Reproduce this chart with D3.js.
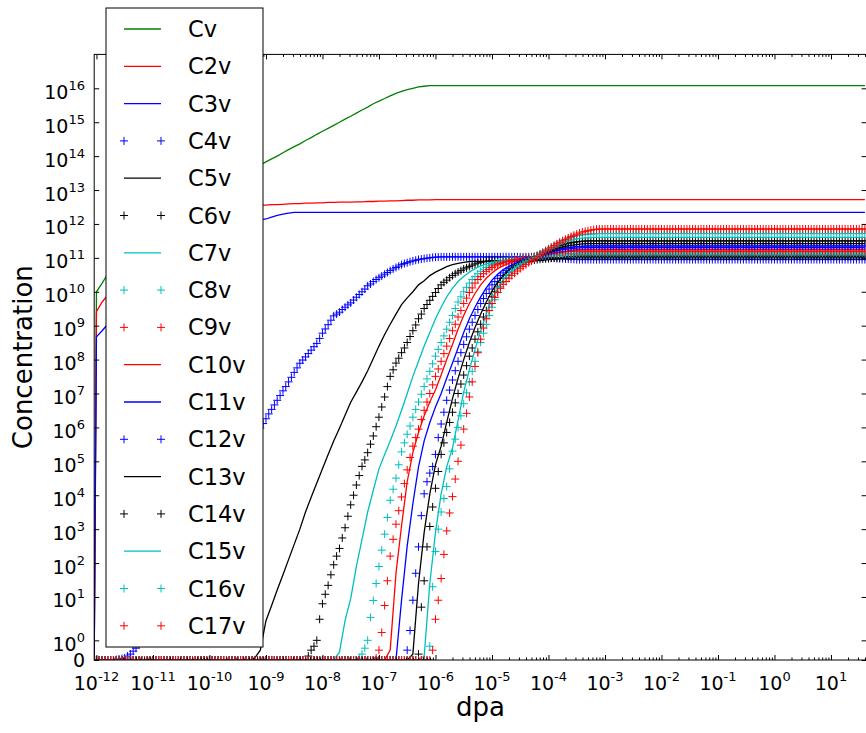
<!DOCTYPE html>
<html>
<head>
<meta charset="utf-8">
<script src="https://cdn.jsdelivr.net/npm/d3@7"></script>
<style>
body { margin: 0; background: #fff; }
text { font-family: "DejaVu Sans", sans-serif; fill: #000; }
</style>
</head>
<body>
<svg id="chart" width="866" height="733"></svg>
<script>
// output times (dpa): line species were saved every other step, marker species every step
const dpa = [9.12e-13,
  1e-12,1.26e-12,1.58e-12,2e-12,2.51e-12,3.16e-12,3.98e-12,5.01e-12,6.31e-12,7.94e-12,
  1e-11,1.26e-11,1.58e-11,2e-11,2.51e-11,3.16e-11,3.98e-11,5.01e-11,6.31e-11,7.94e-11,
  1e-10,1.26e-10,1.58e-10,2e-10,2.51e-10,3.16e-10,3.98e-10,5.01e-10,6.31e-10,7.94e-10,
  1e-9,1.26e-9,1.58e-9,2e-9,2.51e-9,3.16e-9,3.98e-9,5.01e-9,6.31e-9,7.94e-9,
  1e-8,1.26e-8,1.58e-8,2e-8,2.51e-8,3.16e-8,3.98e-8,5.01e-8,6.31e-8,7.94e-8,
  1e-7,1.26e-7,1.58e-7,2e-7,2.51e-7,3.16e-7,3.98e-7,5.01e-7,6.31e-7,7.94e-7,
  1e-6,1.26e-6,1.58e-6,2e-6,2.51e-6,3.16e-6,3.98e-6,5.01e-6,6.31e-6,7.94e-6,
  1e-5,1.26e-5,1.58e-5,2e-5,2.51e-5,3.16e-5,3.98e-5,5.01e-5,6.31e-5,7.94e-5,
  1e-4,1.26e-4,1.58e-4,2e-4,2.51e-4,3.16e-4,3.98e-4,5.01e-4,6.31e-4,7.94e-4,
  1e-3,1.26e-3,1.58e-3,2e-3,2.51e-3,3.16e-3,3.98e-3,5.01e-3,6.31e-3,7.94e-3,
  1e-2,1.26e-2,1.58e-2,2e-2,2.51e-2,3.16e-2,3.98e-2,5.01e-2,6.31e-2,7.94e-2,
  0.1,0.126,0.158,0.2,0.251,0.316,0.398,0.501,0.631,0.794,
  1,1.26,1.58,2,2.51,3.16,3.98,5.01,6.31,7.94,
  10,12.6,15.8,20,25.1,31.6,39.8];

const dpaFine = [9.12e-13,
  1e-12,1.12e-12,1.26e-12,1.41e-12,1.58e-12,1.78e-12,2e-12,2.24e-12,2.51e-12,2.82e-12,
  3.16e-12,3.55e-12,3.98e-12,4.47e-12,5.01e-12,5.62e-12,6.31e-12,7.08e-12,7.94e-12,8.91e-12,
  1e-11,1.12e-11,1.26e-11,1.41e-11,1.58e-11,1.78e-11,2e-11,2.24e-11,2.51e-11,2.82e-11,
  3.16e-11,3.55e-11,3.98e-11,4.47e-11,5.01e-11,5.62e-11,6.31e-11,7.08e-11,7.94e-11,8.91e-11,
  1e-10,1.12e-10,1.26e-10,1.41e-10,1.58e-10,1.78e-10,2e-10,2.24e-10,2.51e-10,2.82e-10,
  3.16e-10,3.55e-10,3.98e-10,4.47e-10,5.01e-10,5.62e-10,6.31e-10,7.08e-10,7.94e-10,8.91e-10,
  1e-9,1.12e-9,1.26e-9,1.41e-9,1.58e-9,1.78e-9,2e-9,2.24e-9,2.51e-9,2.82e-9,
  3.16e-9,3.55e-9,3.98e-9,4.47e-9,5.01e-9,5.62e-9,6.31e-9,7.08e-9,7.94e-9,8.91e-9,
  1e-8,1.12e-8,1.26e-8,1.41e-8,1.58e-8,1.78e-8,2e-8,2.24e-8,2.51e-8,2.82e-8,
  3.16e-8,3.55e-8,3.98e-8,4.47e-8,5.01e-8,5.62e-8,6.31e-8,7.08e-8,7.94e-8,8.91e-8,
  1e-7,1.12e-7,1.26e-7,1.41e-7,1.58e-7,1.78e-7,2e-7,2.24e-7,2.51e-7,2.82e-7,
  3.16e-7,3.55e-7,3.98e-7,4.47e-7,5.01e-7,5.62e-7,6.31e-7,7.08e-7,7.94e-7,8.91e-7,
  1e-6,1.12e-6,1.26e-6,1.41e-6,1.58e-6,1.78e-6,2e-6,2.24e-6,2.51e-6,2.82e-6,
  3.16e-6,3.55e-6,3.98e-6,4.47e-6,5.01e-6,5.62e-6,6.31e-6,7.08e-6,7.94e-6,8.91e-6,
  1e-5,1.12e-5,1.26e-5,1.41e-5,1.58e-5,1.78e-5,2e-5,2.24e-5,2.51e-5,2.82e-5,
  3.16e-5,3.55e-5,3.98e-5,4.47e-5,5.01e-5,5.62e-5,6.31e-5,7.08e-5,7.94e-5,8.91e-5,
  1e-4,1.12e-4,1.26e-4,1.41e-4,1.58e-4,1.78e-4,2e-4,2.24e-4,2.51e-4,2.82e-4,
  3.16e-4,3.55e-4,3.98e-4,4.47e-4,5.01e-4,5.62e-4,6.31e-4,7.08e-4,7.94e-4,8.91e-4,
  1e-3,1.12e-3,1.26e-3,1.41e-3,1.58e-3,1.78e-3,2e-3,2.24e-3,2.51e-3,2.82e-3,
  3.16e-3,3.55e-3,3.98e-3,4.47e-3,5.01e-3,5.62e-3,6.31e-3,7.08e-3,7.94e-3,8.91e-3,
  1e-2,1.12e-2,1.26e-2,1.41e-2,1.58e-2,1.78e-2,2e-2,2.24e-2,2.51e-2,2.82e-2,
  3.16e-2,3.55e-2,3.98e-2,4.47e-2,5.01e-2,5.62e-2,6.31e-2,7.08e-2,7.94e-2,8.91e-2,
  0.1,0.112,0.126,0.141,0.158,0.178,0.2,0.224,0.251,0.282,
  0.316,0.355,0.398,0.447,0.501,0.562,0.631,0.708,0.794,0.891,
  1,1.12,1.26,1.41,1.58,1.78,2,2.24,2.51,2.82,
  3.16,3.55,3.98,4.47,5.01,5.62,6.31,7.08,7.94,8.91,
  10,11.2,12.6,14.1,15.8,17.8,20,22.4,25.1,28.2,31.6,35.5,39.8];

// ---- line species (on dpa) ----
const cv = [0,
  1e10,1.8e10,3.3e10,4.4e10,5.8e10,7.6e10,1e11,1.3e11,1.7e11,2.2e11,
  3e11,3.9e11,5.1e11,6.8e11,8.9e11,1.2e12,1.5e12,2e12,2.7e12,3.5e12,
  4.6e12,6e12,7.9e12,1e13,1.4e13,1.8e13,2.4e13,3.2e13,4.2e13,5.5e13,
  6.8e13,8.3e13,1e14,1.26e14,1.55e14,1.9e14,2.3e14,2.9e14,3.5e14,4.4e14,
  5.4e14,6.6e14,8.1e14,1e15,1.23e15,1.5e15,1.86e15,2.3e15,2.8e15,3.5e15,
  4.2e15,5e15,6e15,7.1e15,8.1e15,9.1e15,1e16,1.1e16,1.15e16,1.2e16,
  1.2e16,1.2e16,1.2e16,1.2e16,1.2e16,1.2e16,1.2e16,1.2e16,1.2e16,1.2e16,
  1.2e16,1.2e16,1.2e16,1.2e16,1.2e16,1.2e16,1.2e16,1.2e16,1.2e16,1.2e16,
  1.2e16,1.2e16,1.2e16,1.2e16,1.2e16,1.2e16,1.2e16,1.2e16,1.2e16,1.2e16,
  1.2e16,1.2e16,1.2e16,1.2e16,1.2e16,1.2e16,1.2e16,1.2e16,1.2e16,1.2e16,
  1.2e16,1.2e16,1.2e16,1.2e16,1.2e16,1.2e16,1.2e16,1.2e16,1.2e16,1.2e16,
  1.2e16,1.2e16,1.2e16,1.2e16,1.2e16,1.2e16,1.2e16,1.2e16,1.2e16,1.2e16,
  1.2e16,1.2e16,1.2e16,1.2e16,1.2e16,1.2e16,1.2e16,1.2e16,1.2e16,1.2e16,
  1.2e16,1.2e16,1.2e16,1.2e16,1.2e16,1.2e16,1.2e16];

const c2v = [0,
  2.6e9,5e9,7.9e9,2e10,4e10,7.9e10,1.4e11,2.5e11,4e11,5.6e11,
  7.9e11,1e12,1.26e12,1.5e12,1.8e12,2e12,2.2e12,2.45e12,2.6e12,2.8e12,
  2.95e12,3e12,3.1e12,3.16e12,3.2e12,3.4e12,3.5e12,3.5e12,3.55e12,3.6e12,
  3.6e12,3.7e12,3.7e12,3.8e12,3.9e12,4e12,4e12,4.1e12,4.1e12,4.2e12,
  4.2e12,4.3e12,4.3e12,4.4e12,4.4e12,4.4e12,4.5e12,4.5e12,4.6e12,4.6e12,
  4.7e12,4.7e12,4.8e12,4.8e12,4.9e12,5e12,5e12,5.1e12,5.1e12,5.1e12,
  5.2e12,5.2e12,5.2e12,5.2e12,5.2e12,5.2e12,5.2e12,5.2e12,5.2e12,5.2e12,
  5.2e12,5.2e12,5.2e12,5.2e12,5.2e12,5.2e12,5.2e12,5.2e12,5.2e12,5.2e12,
  5.2e12,5.2e12,5.2e12,5.2e12,5.2e12,5.2e12,5.2e12,5.2e12,5.2e12,5.2e12,
  5.2e12,5.2e12,5.2e12,5.2e12,5.2e12,5.2e12,5.2e12,5.2e12,5.2e12,5.2e12,
  5.2e12,5.2e12,5.2e12,5.2e12,5.2e12,5.2e12,5.2e12,5.2e12,5.2e12,5.2e12,
  5.2e12,5.2e12,5.2e12,5.2e12,5.2e12,5.2e12,5.2e12,5.2e12,5.2e12,5.2e12,
  5.2e12,5.2e12,5.2e12,5.2e12,5.2e12,5.2e12,5.2e12,5.2e12,5.2e12,5.2e12,
  5.2e12,5.2e12,5.2e12,5.2e12,5.2e12,5.2e12,5.2e12];

const c3v = [0,
  4.7e8,7.1e8,1.1e9,2.5e9,5.6e9,1.3e10,2.5e10,5e10,8.9e10,1.4e11,
  2e11,2.7e11,3.5e11,4.4e11,5.2e11,6.2e11,7.1e11,7.8e11,8.5e11,9.1e11,
  9.8e11,1e12,1.02e12,1.05e12,1.1e12,1.15e12,1.17e12,1.23e12,1.26e12,1.3e12,
  1.4e12,1.6e12,1.8e12,1.95e12,2.1e12,2.2e12,2.2e12,2.2e12,2.2e12,2.2e12,
  2.2e12,2.2e12,2.2e12,2.2e12,2.2e12,2.2e12,2.2e12,2.2e12,2.2e12,2.2e12,
  2.2e12,2.2e12,2.2e12,2.2e12,2.2e12,2.2e12,2.2e12,2.2e12,2.2e12,2.2e12,
  2.2e12,2.2e12,2.2e12,2.2e12,2.2e12,2.2e12,2.2e12,2.2e12,2.2e12,2.2e12,
  2.2e12,2.2e12,2.2e12,2.2e12,2.2e12,2.2e12,2.2e12,2.2e12,2.2e12,2.2e12,
  2.2e12,2.2e12,2.2e12,2.2e12,2.2e12,2.2e12,2.2e12,2.2e12,2.2e12,2.2e12,
  2.2e12,2.2e12,2.2e12,2.2e12,2.2e12,2.2e12,2.2e12,2.2e12,2.2e12,2.2e12,
  2.2e12,2.2e12,2.2e12,2.2e12,2.2e12,2.2e12,2.2e12,2.2e12,2.2e12,2.2e12,
  2.2e12,2.2e12,2.2e12,2.2e12,2.2e12,2.2e12,2.2e12,2.2e12,2.2e12,2.2e12,
  2.2e12,2.2e12,2.2e12,2.2e12,2.2e12,2.2e12,2.2e12,2.2e12,2.2e12,2.2e12,
  2.2e12,2.2e12,2.2e12,2.2e12,2.2e12,2.2e12,2.2e12];

const c5v = [0,
  0,0,0,0,0,0,0,0,0,0,
  0,0,0,0,0,0,0,0,0,0,
  0,0,0,0,0,0,0,0,0.1,0.5,
  2,5.6,16,45,126,355,1000,3200,8700,2.3e4,
  6e4,1.6e5,4e5,9.5e5,2.3e6,5.5e6,1.1e7,2.2e7,4.7e7,1.07e8,
  2.5e8,5.5e8,1.1e9,2.2e9,4.2e9,6.6e9,1e10,1.6e10,2.1e10,3e10,
  3.8e10,4.6e10,5.5e10,6.3e10,6.9e10,7.4e10,7.8e10,7.9e10,7.9e10,7.9e10,
  7.9e10,7.9e10,7.9e10,7.9e10,7.9e10,7.9e10,7.9e10,7.9e10,8.3e10,8.5e10,
  8.9e10,9.1e10,9.3e10,9.5e10,9.8e10,1e11,1e11,1e11,1e11,1e11,
  1e11,1e11,1e11,1e11,1e11,1e11,1e11,1e11,1e11,1e11,
  1e11,1e11,1e11,1e11,1e11,1e11,1e11,1e11,1e11,1e11,
  1e11,1e11,1e11,1e11,1e11,1e11,1e11,1e11,1e11,1e11,
  1e11,1e11,1e11,1e11,1e11,1e11,1e11,1e11,1e11,1e11,
  1e11,1e11,1e11,1e11,1e11,1e11,1e11];

const c7v = [0,
  0,0,0,0,0,0,0,0,0,0,
  0,0,0,0,0,0,0,0,0,0,
  0,0,0,0,0,0,0,0,0,0,
  0,0,0,0,0,0,0,0,0,0,
  0,0,0,0.4,2,8.9,79,500,3200,1.4e4,
  6e4,1.6e5,4e5,1.1e6,3.2e6,1e7,3.2e7,8.9e7,2.5e8,6.3e8,
  1.6e9,3.5e9,7.1e9,1.26e10,2e10,2.8e10,3.8e10,4.8e10,5.8e10,6.6e10,
  7.4e10,7.9e10,8.5e10,8.9e10,9.3e10,9.5e10,9.8e10,1e11,1.02e11,1.05e11,
  1.1e11,1.12e11,1.17e11,1.2e11,1.23e11,1.26e11,1.26e11,1.26e11,1.26e11,1.26e11,
  1.26e11,1.26e11,1.26e11,1.26e11,1.26e11,1.26e11,1.26e11,1.26e11,1.26e11,1.26e11,
  1.26e11,1.26e11,1.26e11,1.26e11,1.26e11,1.26e11,1.26e11,1.26e11,1.26e11,1.26e11,
  1.26e11,1.26e11,1.26e11,1.26e11,1.26e11,1.26e11,1.26e11,1.26e11,1.26e11,1.26e11,
  1.26e11,1.26e11,1.26e11,1.26e11,1.26e11,1.26e11,1.26e11,1.26e11,1.26e11,1.26e11,
  1.26e11,1.26e11,1.26e11,1.26e11,1.26e11,1.26e11,1.26e11];

const c10v = [0,
  0,0,0,0,0,0,0,0,0,0,
  0,0,0,0,0,0,0,0,0,0,
  0,0,0,0,0,0,0,0,0,0,
  0,0,0,0,0,0,0,0,0,0,
  0,0,0,0,0,0,0,0,0,0,
  0,0,0.5,50,1260,2.5e4,1.8e5,7.1e5,2.2e6,5.6e6,
  1.26e7,3.5e7,1e8,2.8e8,7.9e8,2e9,4.5e9,8.9e9,1.6e10,2.5e10,
  3.6e10,4.8e10,5.9e10,6.9e10,7.8e10,8.5e10,9.3e10,1e11,1.1e11,1.2e11,
  1.32e11,1.41e11,1.5e11,1.58e11,1.66e11,1.74e11,1.78e11,1.78e11,1.78e11,1.78e11,
  1.78e11,1.78e11,1.78e11,1.78e11,1.78e11,1.78e11,1.78e11,1.78e11,1.78e11,1.78e11,
  1.78e11,1.78e11,1.78e11,1.78e11,1.78e11,1.78e11,1.78e11,1.78e11,1.78e11,1.78e11,
  1.78e11,1.78e11,1.78e11,1.78e11,1.78e11,1.78e11,1.78e11,1.78e11,1.78e11,1.78e11,
  1.78e11,1.78e11,1.78e11,1.78e11,1.78e11,1.78e11,1.78e11,1.78e11,1.78e11,1.78e11,
  1.78e11,1.78e11,1.78e11,1.78e11,1.78e11,1.78e11,1.78e11];

const c11v = [0,
  0,0,0,0,0,0,0,0,0,0,
  0,0,0,0,0,0,0,0,0,0,
  0,0,0,0,0,0,0,0,0,0,
  0,0,0,0,0,0,0,0,0,0,
  0,0,0,0,0,0,0,0,0,0,
  0,0,0,0,8.1,320,5600,6.9e4,4e5,1.4e6,
  4e6,1e7,2.8e7,7.9e7,2.2e8,6.3e8,1.6e9,3.5e9,7.1e9,1.3e10,
  2.2e10,3.3e10,4.5e10,5.6e10,6.8e10,7.9e10,8.9e10,1e11,1.12e11,1.26e11,
  1.41e11,1.55e11,1.7e11,1.78e11,1.86e11,1.95e11,2e11,2e11,2e11,2e11,
  2e11,2e11,2e11,2e11,2e11,2e11,2e11,2e11,2e11,2e11,
  2e11,2e11,2e11,2e11,2e11,2e11,2e11,2e11,2e11,2e11,
  2e11,2e11,2e11,2e11,2e11,2e11,2e11,2e11,2e11,2e11,
  2e11,2e11,2e11,2e11,2e11,2e11,2e11,2e11,2e11,2e11,
  2e11,2e11,2e11,2e11,2e11,2e11,2e11];

const c13v = [0,
  0,0,0,0,0,0,0,0,0,0,
  0,0,0,0,0,0,0,0,0,0,
  0,0,0,0,0,0,0,0,0,0,
  0,0,0,0,0,0,0,0,0,0,
  0,0,0,0,0,0,0,0,0,0,
  0,0,0,0,0,0,0.3,25,800,1.1e4,
  7.9e4,2.8e5,1.4e6,7.1e6,2.8e7,1e8,3.2e8,8.9e8,2.2e9,5e9,
  1.05e10,1.9e10,3e10,4.3e10,5.6e10,6.9e10,8.1e10,9.5e10,1.12e11,1.32e11,
  1.55e11,1.78e11,2e11,2.2e11,2.34e11,2.45e11,2.57e11,2.63e11,2.63e11,2.63e11,
  2.63e11,2.63e11,2.63e11,2.63e11,2.63e11,2.63e11,2.63e11,2.63e11,2.63e11,2.63e11,
  2.63e11,2.63e11,2.63e11,2.63e11,2.63e11,2.63e11,2.63e11,2.63e11,2.63e11,2.63e11,
  2.63e11,2.63e11,2.63e11,2.63e11,2.63e11,2.63e11,2.63e11,2.63e11,2.63e11,2.63e11,
  2.63e11,2.63e11,2.63e11,2.63e11,2.63e11,2.63e11,2.63e11,2.63e11,2.63e11,2.63e11,
  2.63e11,2.63e11,2.63e11,2.63e11,2.63e11,2.63e11,2.63e11];

const c15v = [0,
  0,0,0,0,0,0,0,0,0,0,
  0,0,0,0,0,0,0,0,0,0,
  0,0,0,0,0,0,0,0,0,0,
  0,0,0,0,0,0,0,0,0,0,
  0,0,0,0,0,0,0,0,0,0,
  0,0,0,0,0,0,0,0,0.2,25,
  800,1.1e4,6.9e4,2.5e5,1.6e6,1.1e7,5e7,2e8,7.1e8,2.2e9,
  6.3e9,1.26e10,2.2e10,3.5e10,5e10,6.3e10,7.8e10,9.3e10,1.15e11,1.41e11,
  1.74e11,2.1e11,2.5e11,2.95e11,3.3e11,3.6e11,3.8e11,3.9e11,4e11,4e11,
  4e11,4e11,4e11,4e11,4e11,4e11,4e11,4e11,4e11,4e11,
  4e11,4e11,4e11,4e11,4e11,4e11,4e11,4e11,4e11,4e11,
  4e11,4e11,4e11,4e11,4e11,4e11,4e11,4e11,4e11,4e11,
  4e11,4e11,4e11,4e11,4e11,4e11,4e11,4e11,4e11,4e11,
  4e11,4e11,4e11,4e11,4e11,4e11,4e11];

// ---- marker species (on dpaFine) ----
const c4v = [0,
  0,0,0,0,0,0,0,0.02,0.05,0.07, 0.1,0.2,0.3,0.45,0.6,0.8,1,1.4,2,2.8,
  3.8,5.3,7.4,10,14,20,28,38,52,72, 100,140,195,270,370,520,720,1000,1400,1900,
  2600,3700,5100,7100,1e4,1.4e4,1.9e4,2.6e4,3.6e4,5e4, 7.1e4,9.8e4,1.35e5,1.9e5,2.6e5,3.6e5,5e5,6.9e5,9.5e5,1.3e6,
  1.8e6,2.5e6,3.4e6,4.6e6,6.3e6,8.7e6,1.2e7,1.6e7,2.2e7,3e7, 4.2e7,5.7e7,7.8e7,9.7e7,1.2e8,1.5e8,1.9e8,2.4e8,3e8,4.2e8,
  6e8,8e8,1.07e9,1.45e9,1.95e9,2.2e9,2.5e9,3e9,3.5e9,4.1e9, 4.7e9,5.7e9,6.9e9,8.3e9,1e10,1.2e10,1.5e10,1.7e10,2e10,2.3e10,
  2.6e10,2.9e10,3.3e10,3.7e10,4.2e10,4.7e10,5.2e10,5.7e10,6.3e10,6.8e10, 7.2e10,7.7e10,8.1e10,8.5e10,8.9e10,9.2e10,9.5e10,9.8e10,1e11,1.03e11,
  1.05e11,1.06e11,1.07e11,1.07e11,1.07e11,1.07e11,1.07e11,1.07e11,1.07e11,1.07e11, 1.07e11,1.07e11,1.07e11,1.07e11,1.07e11,1.07e11,1.07e11,1.07e11,1.07e11,1.07e11,
  1.07e11,1.07e11,1.07e11,1.07e11,1.07e11,1.07e11,1.07e11,1.07e11,1.07e11,1.07e11, 1.07e11,1.07e11,1.07e11,1.07e11,1.07e11,1.06e11,1.05e11,1.03e11,1.02e11,1.01e11,
  1e11,9.9e10,9.8e10,9.6e10,9.5e10,9.4e10,9.3e10,9.2e10,9.1e10,9e10, 8.9e10,8.9e10,8.9e10,8.9e10,8.9e10,8.9e10,8.9e10,8.9e10,8.9e10,8.9e10,
  8.9e10,8.9e10,8.9e10,8.9e10,8.9e10,8.9e10,8.9e10,8.9e10,8.9e10,8.9e10, 8.9e10,8.9e10,8.9e10,8.9e10,8.9e10,8.9e10,8.9e10,8.9e10,8.9e10,8.9e10,
  8.9e10,8.9e10,8.9e10,8.9e10,8.9e10,8.9e10,8.9e10,8.9e10,8.9e10,8.9e10, 8.9e10,8.9e10,8.9e10,8.9e10,8.9e10,8.9e10,8.9e10,8.9e10,8.9e10,8.9e10,
  8.9e10,8.9e10,8.9e10,8.9e10,8.9e10,8.9e10,8.9e10,8.9e10,8.9e10,8.9e10, 8.9e10,8.9e10,8.9e10,8.9e10,8.9e10,8.9e10,8.9e10,8.9e10,8.9e10,8.9e10,
  8.9e10,8.9e10,8.9e10,8.9e10,8.9e10,8.9e10,8.9e10,8.9e10,8.9e10,8.9e10, 8.9e10,8.9e10,8.9e10,8.9e10,8.9e10,8.9e10,8.9e10,8.9e10,8.9e10,8.9e10,
  8.9e10,8.9e10,8.9e10,8.9e10,8.9e10,8.9e10,8.9e10,8.9e10,8.9e10,8.9e10,8.9e10,8.9e10,8.9e10];

const c6v = [0,
  0,0,0,0,0,0,0,0,0,0, 0,0,0,0,0,0,0,0,0,0,
  0,0,0,0,0,0,0,0,0,0, 0,0,0,0,0,0,0,0,0,0,
  0,0,0,0,0,0,0,0,0,0, 0,0,0,0,0,0,0,0,0,0,
  0,0,0,0,0,0,0,0,0,0, 0,0,0,0,0,0.2,0.5,0.7,1,2.2,
  6.3,12,22,45,89,160,270,550,1100,2400, 5200,1e4,2e4,3.8e4,7.1e4,1.1e5,1.8e5,3.2e5,5.6e5,1.05e6,
  2e6,4e6,7.9e6,1.6e7,3.2e7,5e7,7.9e7,1.1e8,1.6e8,2.2e8, 3.2e8,4.8e8,7.1e8,1.05e9,1.6e9,2.2e9,3.2e9,4.2e9,5.6e9,7.3e9,
  9.5e9,1.25e10,1.6e10,1.9e10,2.2e10,2.6e10,3e10,3.4e10,3.8e10,4.2e10, 4.7e10,5.1e10,5.6e10,6.1e10,6.6e10,7e10,7.4e10,7.7e10,7.9e10,8.1e10,
  8.3e10,8.3e10,8.3e10,8.3e10,8.3e10,8.3e10,8.3e10,8.3e10,8.3e10,8.3e10, 8.3e10,8.3e10,8.3e10,8.3e10,8.3e10,8.6e10,8.9e10,9.1e10,9.3e10,9.4e10,
  9.5e10,9.8e10,1e11,1.01e11,1.02e11,1.04e11,1.05e11,1.08e11,1.1e11,1.11e11, 1.12e11,1.12e11,1.12e11,1.12e11,1.12e11,1.12e11,1.12e11,1.12e11,1.12e11,1.12e11,
  1.12e11,1.12e11,1.12e11,1.12e11,1.12e11,1.12e11,1.12e11,1.12e11,1.12e11,1.12e11, 1.12e11,1.12e11,1.12e11,1.12e11,1.12e11,1.12e11,1.12e11,1.12e11,1.12e11,1.12e11,
  1.12e11,1.12e11,1.12e11,1.12e11,1.12e11,1.12e11,1.12e11,1.12e11,1.12e11,1.12e11, 1.12e11,1.12e11,1.12e11,1.12e11,1.12e11,1.12e11,1.12e11,1.12e11,1.12e11,1.12e11,
  1.12e11,1.12e11,1.12e11,1.12e11,1.12e11,1.12e11,1.12e11,1.12e11,1.12e11,1.12e11, 1.12e11,1.12e11,1.12e11,1.12e11,1.12e11,1.12e11,1.12e11,1.12e11,1.12e11,1.12e11,
  1.12e11,1.12e11,1.12e11,1.12e11,1.12e11,1.12e11,1.12e11,1.12e11,1.12e11,1.12e11, 1.12e11,1.12e11,1.12e11,1.12e11,1.12e11,1.12e11,1.12e11,1.12e11,1.12e11,1.12e11,
  1.12e11,1.12e11,1.12e11,1.12e11,1.12e11,1.12e11,1.12e11,1.12e11,1.12e11,1.12e11,1.12e11,1.12e11,1.12e11];

const c8v = [0,
  0,0,0,0,0,0,0,0,0,0, 0,0,0,0,0,0,0,0,0,0,
  0,0,0,0,0,0,0,0,0,0, 0,0,0,0,0,0,0,0,0,0,
  0,0,0,0,0,0,0,0,0,0, 0,0,0,0,0,0,0,0,0,0,
  0,0,0,0,0,0,0,0,0,0, 0,0,0,0,0,0,0,0,0,0,
  0,0,0,0,0,0,0,0,0,0, 0,0,0,0.1,0.3,0.6,1,2.5,7.9,25,
  79,240,710,2200,7100,1.5e4,3.2e4,7.9e4,1.9e5,3.5e5, 6.3e5,1.1e6,2e6,3.4e6,5.6e6,9.5e6,1.6e7,2.7e7,4.5e7,7.5e7,
  1.26e8,2e8,3.2e8,5e8,7.9e8,1.26e9,2e9,3.2e9,5e9,7.1e9, 1e10,1.35e10,1.8e10,2.3e10,2.8e10,3.4e10,4e10,4.6e10,5.2e10,5.8e10,
  6.3e10,6.8e10,7.2e10,7.6e10,7.9e10,8.2e10,8.5e10,8.8e10,9.1e10,9.3e10, 9.5e10,9.8e10,1e11,1.02e11,1.05e11,1.07e11,1.1e11,1.12e11,1.15e11,1.17e11,
  1.2e11,1.23e11,1.26e11,1.28e11,1.3e11,1.31e11,1.32e11,1.34e11,1.35e11,1.36e11, 1.38e11,1.4e11,1.41e11,1.41e11,1.41e11,1.41e11,1.41e11,1.41e11,1.41e11,1.41e11,
  1.41e11,1.41e11,1.41e11,1.41e11,1.41e11,1.41e11,1.41e11,1.41e11,1.41e11,1.41e11, 1.41e11,1.41e11,1.41e11,1.41e11,1.41e11,1.41e11,1.41e11,1.41e11,1.41e11,1.41e11,
  1.41e11,1.41e11,1.41e11,1.41e11,1.41e11,1.41e11,1.41e11,1.41e11,1.41e11,1.41e11, 1.41e11,1.41e11,1.41e11,1.41e11,1.41e11,1.41e11,1.41e11,1.41e11,1.41e11,1.41e11,
  1.41e11,1.41e11,1.41e11,1.41e11,1.41e11,1.41e11,1.41e11,1.41e11,1.41e11,1.41e11, 1.41e11,1.41e11,1.41e11,1.41e11,1.41e11,1.41e11,1.41e11,1.41e11,1.41e11,1.41e11,
  1.41e11,1.41e11,1.41e11,1.41e11,1.41e11,1.41e11,1.41e11,1.41e11,1.41e11,1.41e11, 1.41e11,1.41e11,1.41e11,1.41e11,1.41e11,1.41e11,1.41e11,1.41e11,1.41e11,1.41e11,
  1.41e11,1.41e11,1.41e11,1.41e11,1.41e11,1.41e11,1.41e11,1.41e11,1.41e11,1.41e11,1.41e11,1.41e11,1.41e11];

const c9v = [0,
  0,0,0,0,0,0,0,0,0,0, 0,0,0,0,0,0,0,0,0,0,
  0,0,0,0,0,0,0,0,0,0, 0,0,0,0,0,0,0,0,0,0,
  0,0,0,0,0,0,0,0,0,0, 0,0,0,0,0,0,0,0,0,0,
  0,0,0,0,0,0,0,0,0,0, 0,0,0,0,0,0,0,0,0,0,
  0,0,0,0,0,0,0,0,0,0, 0,0,0,0,0,0,0,0,0,0.1,
  0.5,1.4,5.6,30,160,500,1400,3500,8900,2.2e4, 5.6e4,1.3e5,2.8e5,5e5,8.9e5,1.7e6,3.2e6,5.6e6,1e7,1.8e7,
  3.2e7,5.3e7,8.9e7,1.5e8,2.5e8,4.2e8,7.1e8,1.1e9,1.8e9,2.8e9, 4.5e9,6.5e9,9.5e9,1.3e10,1.8e10,2.3e10,2.8e10,3.4e10,4e10,4.6e10,
  5.2e10,5.8e10,6.3e10,6.8e10,7.2e10,7.6e10,7.9e10,8.3e10,8.7e10,9e10, 9.3e10,9.6e10,1e11,1.03e11,1.07e11,1.1e11,1.15e11,1.19e11,1.23e11,1.27e11,
  1.32e11,1.35e11,1.38e11,1.41e11,1.45e11,1.48e11,1.5e11,1.53e11,1.55e11,1.57e11, 1.58e11,1.58e11,1.58e11,1.58e11,1.58e11,1.58e11,1.58e11,1.58e11,1.58e11,1.58e11,
  1.58e11,1.58e11,1.58e11,1.58e11,1.58e11,1.58e11,1.58e11,1.58e11,1.58e11,1.58e11, 1.58e11,1.58e11,1.58e11,1.58e11,1.58e11,1.58e11,1.58e11,1.58e11,1.58e11,1.58e11,
  1.58e11,1.58e11,1.58e11,1.58e11,1.58e11,1.58e11,1.58e11,1.58e11,1.58e11,1.58e11, 1.58e11,1.58e11,1.58e11,1.58e11,1.58e11,1.58e11,1.58e11,1.58e11,1.58e11,1.58e11,
  1.58e11,1.58e11,1.58e11,1.58e11,1.58e11,1.58e11,1.58e11,1.58e11,1.58e11,1.58e11, 1.58e11,1.58e11,1.58e11,1.58e11,1.58e11,1.58e11,1.58e11,1.58e11,1.58e11,1.58e11,
  1.58e11,1.58e11,1.58e11,1.58e11,1.58e11,1.58e11,1.58e11,1.58e11,1.58e11,1.58e11, 1.58e11,1.58e11,1.58e11,1.58e11,1.58e11,1.58e11,1.58e11,1.58e11,1.58e11,1.58e11,
  1.58e11,1.58e11,1.58e11,1.58e11,1.58e11,1.58e11,1.58e11,1.58e11,1.58e11,1.58e11,1.58e11,1.58e11,1.58e11];

const c12v = [0,
  0,0,0,0,0,0,0,0,0,0, 0,0,0,0,0,0,0,0,0,0,
  0,0,0,0,0,0,0,0,0,0, 0,0,0,0,0,0,0,0,0,0,
  0,0,0,0,0,0,0,0,0,0, 0,0,0,0,0,0,0,0,0,0,
  0,0,0,0,0,0,0,0,0,0, 0,0,0,0,0,0,0,0,0,0,
  0,0,0,0,0,0,0,0,0,0, 0,0,0,0,0,0,0,0,0,0,
  0,0,0,0,0,0,0,0,0,0, 0.5,1.5,8,50,300,2500,1.1e4,2.5e4,4.5e4,7e4,
  1.6e5,5e5,1.26e6,2.8e6,6.3e6,1.26e7,2.5e7,4.7e7,8.9e7,1.6e8, 2.8e8,4.7e8,7.9e8,1.26e9,2e9,3e9,4.5e9,6.3e9,8.9e9,1.2e10,
  1.6e10,2e10,2.5e10,3e10,3.6e10,4.2e10,4.8e10,5.4e10,6e10,6.6e10, 7.2e10,7.8e10,8.5e10,9.1e10,9.8e10,1.05e11,1.12e11,1.2e11,1.3e11,1.39e11,
  1.48e11,1.57e11,1.66e11,1.73e11,1.8e11,1.88e11,1.95e11,2e11,2.04e11,2.09e11, 2.14e11,2.17e11,2.2e11,2.22e11,2.24e11,2.24e11,2.24e11,2.24e11,2.24e11,2.24e11,
  2.24e11,2.24e11,2.24e11,2.24e11,2.24e11,2.24e11,2.24e11,2.24e11,2.24e11,2.24e11, 2.24e11,2.24e11,2.24e11,2.24e11,2.24e11,2.24e11,2.24e11,2.24e11,2.24e11,2.24e11,
  2.24e11,2.24e11,2.24e11,2.24e11,2.24e11,2.24e11,2.24e11,2.24e11,2.24e11,2.24e11, 2.24e11,2.24e11,2.24e11,2.24e11,2.24e11,2.24e11,2.24e11,2.24e11,2.24e11,2.24e11,
  2.24e11,2.24e11,2.24e11,2.24e11,2.24e11,2.24e11,2.24e11,2.24e11,2.24e11,2.24e11, 2.24e11,2.24e11,2.24e11,2.24e11,2.24e11,2.24e11,2.24e11,2.24e11,2.24e11,2.24e11,
  2.24e11,2.24e11,2.24e11,2.24e11,2.24e11,2.24e11,2.24e11,2.24e11,2.24e11,2.24e11, 2.24e11,2.24e11,2.24e11,2.24e11,2.24e11,2.24e11,2.24e11,2.24e11,2.24e11,2.24e11,
  2.24e11,2.24e11,2.24e11,2.24e11,2.24e11,2.24e11,2.24e11,2.24e11,2.24e11,2.24e11,2.24e11,2.24e11,2.24e11];

const c14v = [0,
  0,0,0,0,0,0,0,0,0,0, 0,0,0,0,0,0,0,0,0,0,
  0,0,0,0,0,0,0,0,0,0, 0,0,0,0,0,0,0,0,0,0,
  0,0,0,0,0,0,0,0,0,0, 0,0,0,0,0,0,0,0,0,0,
  0,0,0,0,0,0,0,0,0,0, 0,0,0,0,0,0,0,0,0,0,
  0,0,0,0,0,0,0,0,0,0, 0,0,0,0,0,0,0,0,0,0,
  0,0,0,0,0,0,0,0,0,0, 0,0,0,0,0.3,5,30,300,1200,4500,
  1.6e4,5e4,1.6e5,3.5e5,7.1e5,1.4e6,2.8e6,5.3e6,1e7,1.9e7, 3.5e7,6.6e7,1.26e8,2.2e8,4e8,6.6e8,1.1e9,1.8e9,2.8e9,4.5e9,
  7.1e9,1e10,1.4e10,1.9e10,2.5e10,3.1e10,3.8e10,4.5e10,5.2e10,5.9e10, 6.6e10,7.2e10,7.9e10,8.7e10,9.5e10,1.05e11,1.15e11,1.26e11,1.38e11,1.51e11,
  1.66e11,1.8e11,1.95e11,2.1e11,2.3e11,2.45e11,2.6e11,2.7e11,2.8e11,2.88e11, 2.95e11,3.03e11,3.1e11,3.13e11,3.16e11,3.16e11,3.16e11,3.16e11,3.16e11,3.16e11,
  3.16e11,3.16e11,3.16e11,3.16e11,3.16e11,3.16e11,3.16e11,3.16e11,3.16e11,3.16e11, 3.16e11,3.16e11,3.16e11,3.16e11,3.16e11,3.16e11,3.16e11,3.16e11,3.16e11,3.16e11,
  3.16e11,3.16e11,3.16e11,3.16e11,3.16e11,3.16e11,3.16e11,3.16e11,3.16e11,3.16e11, 3.16e11,3.16e11,3.16e11,3.16e11,3.16e11,3.16e11,3.16e11,3.16e11,3.16e11,3.16e11,
  3.16e11,3.16e11,3.16e11,3.16e11,3.16e11,3.16e11,3.16e11,3.16e11,3.16e11,3.16e11, 3.16e11,3.16e11,3.16e11,3.16e11,3.16e11,3.16e11,3.16e11,3.16e11,3.16e11,3.16e11,
  3.16e11,3.16e11,3.16e11,3.16e11,3.16e11,3.16e11,3.16e11,3.16e11,3.16e11,3.16e11, 3.16e11,3.16e11,3.16e11,3.16e11,3.16e11,3.16e11,3.16e11,3.16e11,3.16e11,3.16e11,
  3.16e11,3.16e11,3.16e11,3.16e11,3.16e11,3.16e11,3.16e11,3.16e11,3.16e11,3.16e11,3.16e11,3.16e11,3.16e11];

const c16v = [0,
  0,0,0,0,0,0,0,0,0,0, 0,0,0,0,0,0,0,0,0,0,
  0,0,0,0,0,0,0,0,0,0, 0,0,0,0,0,0,0,0,0,0,
  0,0,0,0,0,0,0,0,0,0, 0,0,0,0,0,0,0,0,0,0,
  0,0,0,0,0,0,0,0,0,0, 0,0,0,0,0,0,0,0,0,0,
  0,0,0,0,0,0,0,0,0,0, 0,0,0,0,0,0,0,0,0,0,
  0,0,0,0,0,0,0,0,0,0, 0,0,0,0,0,0,0,0,0.7,20,
  220,1000,3200,8000,1.8e4,6e4,2e5,4.5e5,1e6,2.2e6, 5e6,1.05e7,2.2e7,4.5e7,8.9e7,1.7e8,3.2e8,6e8,1.1e9,2e9,
  3.5e9,5.8e9,9.5e9,1.4e10,2e10,2.6e10,3.2e10,3.9e10,4.6e10,5.3e10, 6e10,6.8e10,7.6e10,8.4e10,9.3e10,1.04e11,1.17e11,1.32e11,1.48e11,1.66e11,
  1.86e11,2.07e11,2.3e11,2.55e11,2.8e11,3.1e11,3.4e11,3.7e11,4e11,4.25e11, 4.5e11,4.65e11,4.8e11,4.9e11,5e11,5.05e11,5.1e11,5.15e11,5.2e11,5.2e11,
  5.2e11,5.2e11,5.2e11,5.2e11,5.2e11,5.2e11,5.2e11,5.2e11,5.2e11,5.2e11, 5.2e11,5.2e11,5.2e11,5.2e11,5.2e11,5.2e11,5.2e11,5.2e11,5.2e11,5.2e11,
  5.2e11,5.2e11,5.2e11,5.2e11,5.2e11,5.2e11,5.2e11,5.2e11,5.2e11,5.2e11, 5.2e11,5.2e11,5.2e11,5.2e11,5.2e11,5.2e11,5.2e11,5.2e11,5.2e11,5.2e11,
  5.2e11,5.2e11,5.2e11,5.2e11,5.2e11,5.2e11,5.2e11,5.2e11,5.2e11,5.2e11, 5.2e11,5.2e11,5.2e11,5.2e11,5.2e11,5.2e11,5.2e11,5.2e11,5.2e11,5.2e11,
  5.2e11,5.2e11,5.2e11,5.2e11,5.2e11,5.2e11,5.2e11,5.2e11,5.2e11,5.2e11, 5.2e11,5.2e11,5.2e11,5.2e11,5.2e11,5.2e11,5.2e11,5.2e11,5.2e11,5.2e11,
  5.2e11,5.2e11,5.2e11,5.2e11,5.2e11,5.2e11,5.2e11,5.2e11,5.2e11,5.2e11,5.2e11,5.2e11,5.2e11];

const c17v = [0,
  0,0,0,0,0,0,0,0,0,0, 0,0,0,0,0,0,0,0,0,0,
  0,0,0,0,0,0,0,0,0,0, 0,0,0,0,0,0,0,0,0,0,
  0,0,0,0,0,0,0,0,0,0, 0,0,0,0,0,0,0,0,0,0,
  0,0,0,0,0,0,0,0,0,0, 0,0,0,0,0,0,0,0,0,0,
  0,0,0,0,0,0,0,0,0,0, 0,0,0,0,0,0,0,0,0,0,
  0,0,0,0,0,0,0,0,0,0, 0,0,0,0,0,0,0,0,0,0.5,
  2.2,8,35,180,890,3000,9100,3e4,1e5,3e5, 8.9e5,2.6e6,7.9e6,2.2e7,6.3e7,1.6e8,4e8,8.5e8,1.6e9,2.8e9,
  4.5e9,6.8e9,9.5e9,1.26e10,1.66e10,2e10,2.5e10,3e10,3.5e10,4.1e10, 4.8e10,5.5e10,6.3e10,7.2e10,8.3e10,9.5e10,1.1e11,1.25e11,1.41e11,1.6e11,
  1.8e11,2.05e11,2.3e11,2.6e11,2.9e11,3.2e11,3.5e11,3.9e11,4.3e11,4.65e11, 5e11,5.4e11,5.8e11,6.05e11,6.3e11,6.55e11,6.8e11,6.95e11,7.1e11,7.1e11,
  7.1e11,7.1e11,7.1e11,7.1e11,7.1e11,7.1e11,7.1e11,7.1e11,7.1e11,7.1e11, 7.1e11,7.1e11,7.1e11,7.1e11,7.1e11,7.1e11,7.1e11,7.1e11,7.1e11,7.1e11,
  7.1e11,7.1e11,7.1e11,7.1e11,7.1e11,7.1e11,7.1e11,7.1e11,7.1e11,7.1e11, 7.1e11,7.1e11,7.1e11,7.1e11,7.1e11,7.1e11,7.1e11,7.1e11,7.1e11,7.1e11,
  7.1e11,7.1e11,7.1e11,7.1e11,7.1e11,7.1e11,7.1e11,7.1e11,7.1e11,7.1e11, 7.1e11,7.1e11,7.1e11,7.1e11,7.1e11,7.1e11,7.1e11,7.1e11,7.1e11,7.1e11,
  7.1e11,7.1e11,7.1e11,7.1e11,7.1e11,7.1e11,7.1e11,7.1e11,7.1e11,7.1e11, 7.1e11,7.1e11,7.1e11,7.1e11,7.1e11,7.1e11,7.1e11,7.1e11,7.1e11,7.1e11,
  7.1e11,7.1e11,7.1e11,7.1e11,7.1e11,7.1e11,7.1e11,7.1e11,7.1e11,7.1e11,7.1e11,7.1e11,7.1e11];

const names = ["Cv","C2v","C3v","C4v","C5v","C6v","C7v","C8v","C9v","C10v","C11v","C12v","C13v","C14v","C15v","C16v","C17v"];
const values = [cv,c2v,c3v,c4v,c5v,c6v,c7v,c8v,c9v,c10v,c11v,c12v,c13v,c14v,c15v,c16v,c17v];
const colors = ["#008000","#ff0000","#0000ff","#0000ff","#000000","#000000","#00bfbf","#00bfbf","#ff0000",
                "#ff0000","#0000ff","#0000ff","#000000","#000000","#00bfbf","#00bfbf","#ff0000"];
const markers = [false,false,false,true,false,true,false,true,true,false,false,true,false,true,false,true,true];

const xTicks = d3.range(-12, 2);           // exponents of major dpa ticks
const yTicks = [0].concat(d3.range(0, 17).map(k => Math.pow(10, k)));

// layout
const plotLeft = 94.2, plotRight = 866.6, plotTop = 54.4, plotBottom = 660;

const svg = d3.select("#chart");

const x = d3.scaleLog()
    .domain([9.12e-13, 42.7])
    .range([plotLeft, plotRight]);

// symmetric log like matplotlib's symlog (linear below linthresh)
const linthresh = 2, linscale = 1.16;
function symlog(v) {
    if (v <= linthresh) return v / linthresh * linscale;
    return linscale + Math.log10(v / linthresh);
}
const yLin = d3.scaleLinear()
    .domain([0, symlog(1e17)])
    .range([plotBottom, plotTop]);
const y = v => yLin(symlog(v));

svg.append("defs").append("clipPath")
    .attr("id", "plot-clip")
    .append("rect")
    .attr("x", plotLeft)
    .attr("y", plotTop)
    .attr("width", plotRight - plotLeft)
    .attr("height", plotBottom - plotTop);

const plot = svg.append("g").attr("clip-path", "url(#plot-clip)");

// series, drawn in legend order so later ones sit on top
const problems = [];
values.forEach((vals, i) => {
    const times = markers[i] ? dpaFine : dpa;
    if (vals.length != times.length) problems.push(names[i] + ": " + vals.length + " values for " + times.length + " times");
    const pts = times.map((d, j) => [x(d), y(vals[j])]).filter(p => !isNaN(p[1]));
    if (markers[i]) {
        plot.append("path")
            .attr("d", pts.map(p => "M" + (p[0] - 4) + "," + p[1] + "h8M" + p[0] + "," + (p[1] - 4) + "v8").join(""))
            .style("fill", "none")
            .style("stroke", colors[i])
            .style("stroke-width", 1);
    } else {
        plot.append("path")
            .datum(pts)
            .attr("d", d3.line())
            .style("fill", "none")
            .style("stroke", colors[i])
            .style("stroke-width", 1.3);
    }
});

// axes: ticks point inward on all four sides
const xMinor = [];
xTicks.forEach(k => { for (let m = 2; m < 10; m++) xMinor.push(m * Math.pow(10, k)); });

function tickGroup(axis, tx, ty) {
    const g = svg.append("g").attr("transform", "translate(" + tx + "," + ty + ")").call(axis);
    g.select(".domain").remove();
    g.selectAll(".tick line").style("stroke", "#000").style("stroke-width", 1);
    return g;
}
const xMajorVals = xTicks.map(k => Math.pow(10, k));
const xMinorVals = xMinor.filter(v => v < 42.7);

tickGroup(d3.axisBottom(x).tickValues(xMajorVals).tickSize(-5).tickFormat(""), 0, plotBottom);
tickGroup(d3.axisBottom(x).tickValues(xMinorVals).tickSize(-2.5).tickFormat(""), 0, plotBottom);
tickGroup(d3.axisTop(x).tickValues(xMajorVals).tickSize(-5).tickFormat(""), 0, plotTop);
tickGroup(d3.axisTop(x).tickValues(xMinorVals).tickSize(-2.5).tickFormat(""), 0, plotTop);

const yTickPos = yTicks.map(symlog);
tickGroup(d3.axisLeft(yLin).tickValues(yTickPos).tickSize(-5).tickFormat(""), plotLeft, 0);
tickGroup(d3.axisRight(yLin).tickValues(yTickPos).tickSize(-5).tickFormat(""), plotRight, 0);

// spines
svg.append("rect")
    .attr("x", plotLeft)
    .attr("y", plotTop)
    .attr("width", plotRight - plotLeft)
    .attr("height", plotBottom - plotTop)
    .style("fill", "none")
    .style("stroke", "#000")
    .style("stroke-width", 1);

// tick labels with superscript exponents
const xLabels = svg.append("g");
xTicks.forEach(k => {
    const t = xLabels.append("text")
        .attr("x", x(Math.pow(10, k)))
        .attr("y", 690)
        .attr("text-anchor", "middle")
        .style("font-size", "19px");
    t.append("tspan").text("10");
    t.append("tspan").attr("dy", -9).style("font-size", "13px").text(k);
});

const yLabels = svg.append("g");
yTicks.forEach(v => {
    const t = yLabels.append("text")
        .attr("x", 85)
        .attr("y", y(v) + (v == 0 ? 7 : 10.5))
        .attr("text-anchor", "end")
        .style("font-size", "19px");
    if (v == 0) {
        t.text("0");
    } else {
        t.append("tspan").text("10");
        t.append("tspan").attr("dy", -9).style("font-size", "13px").text(Math.round(Math.log10(v)));
    }
});

svg.append("text")
    .attr("x", (plotLeft + plotRight) / 2)
    .attr("y", 716)
    .attr("text-anchor", "middle")
    .style("font-size", "26px")
    .text("dpa");

svg.append("text")
    .attr("transform", "translate(32," + ((plotTop + plotBottom) / 2) + ") rotate(-90)")
    .attr("text-anchor", "middle")
    .style("font-size", "26px")
    .text("Concentration");

// legend
const legend = svg.append("g");
legend.append("rect")
    .attr("x", 106)
    .attr("y", 8)
    .attr("width", 157)
    .attr("height", 639)
    .style("fill", "#fff")
    .style("stroke", "#000")
    .style("stroke-width", 1);

names.forEach((name, i) => {
    const ly = 29 + i * 37.3;
    if (markers[i]) {
        [124, 161].forEach(mx => {
            legend.append("path")
                .attr("d", "M" + (mx - 4) + "," + ly + "h8M" + mx + "," + (ly - 4) + "v8")
                .style("stroke", colors[i])
                .style("stroke-width", 1);
        });
    } else {
        legend.append("line")
            .attr("x1", 124).attr("x2", 161)
            .attr("y1", ly).attr("y2", ly)
            .style("stroke", colors[i])
            .style("stroke-width", 1.3);
    }
    legend.append("text")
        .attr("x", 188)
        .attr("y", ly + 8)
        .style("font-size", "22.5px")
        .text(name);
});

if (problems.length) throw new Error(problems.join("; "));
</script>
</body>
</html>
